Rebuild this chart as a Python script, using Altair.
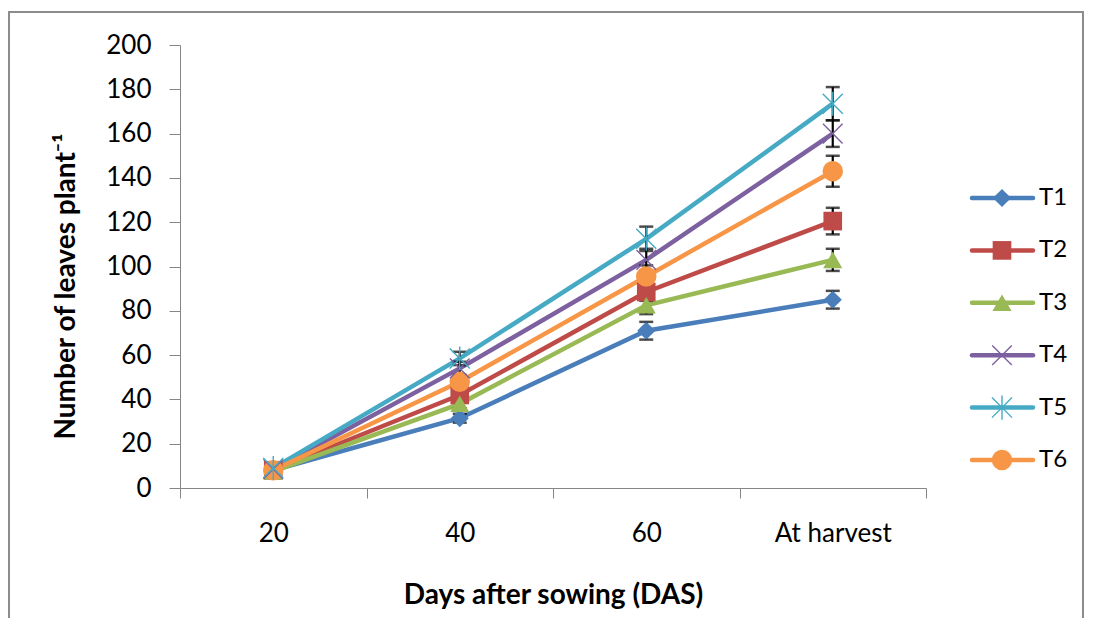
import altair as alt
import pandas as pd

# ---------------- data ----------------
stages = ["20", "40", "60", "At harvest"]
series = ["T1", "T2", "T3", "T4", "T5", "T6"]

T1 = [8.0, 31.5, 71.0, 85.0]
T2 = [8.0, 42.0, 88.5, 120.5]
T3 = [7.5, 38.0, 82.5, 103.0]
T4 = [8.5, 54.0, 103.0, 160.0]
T5 = [9.0, 58.5, 112.5, 173.5]
T6 = [8.0, 48.0, 95.5, 143.0]

E1 = [1.0, 2.0, 4.0, 4.0]
E2 = [1.0, 2.5, 4.0, 6.0]
E3 = [1.0, 2.0, 4.0, 5.0]
E4 = [1.0, 3.0, 5.0, 6.0]
E5 = [1.0, 3.0, 5.5, 7.5]
E6 = [1.0, 3.0, 5.0, 7.0]

colors = ["#4A7EBB", "#BE4B48", "#98B954", "#7D60A0", "#46AAC5", "#F79646"]
shapes = ["diamond", "square", "triangle-up",
          "M-1,-1L1,1M1,-1L-1,1",
          "M-1,-1L1,1M1,-1L-1,1M0,-1.2L0,1.2",
          "circle"]
sizes = [330, 420, 400, 460, 460, 500]

vals = [T1, T2, T3, T4, T5, T6]
errs = [E1, E2, E3, E4, E5, E6]

rows = []
for s, v, e in zip(series, vals, errs):
    for st, vv, ee in zip(stages, v, e):
        rows.append({"series": s, "stage": st, "value": vv, "lo": vv - ee, "hi": vv + ee})
df = pd.DataFrame(rows)
legend_df = pd.DataFrame({"series": series})

FONT = "Lato"
W, H = 746, 443
YTITLE = "Number of leaves plant\u207b\u00b9"

x_enc = alt.X(
    "stage:N", sort=stages,
    scale=alt.Scale(domain=stages, paddingInner=0, paddingOuter=0),
    axis=alt.Axis(title="Days after sowing (DAS)", labelAngle=0, tickBand="extent",
                  tickSize=10, labelPadding=22, titlePadding=35,
                  labelFontSize=26, titleFontSize=28, titleFontWeight="bold",
                  labelFont=FONT, titleFont=FONT, labelColor="#000", titleColor="#000",
                  domainColor="#868686", tickColor="#868686", grid=False),
)

yscale = alt.Scale(domain=[0, 200], nice=False)
y_axis = alt.Axis(values=list(range(0, 201, 20)), grid=False, tickSize=11,
                  labelPadding=18, labelFontSize=26, labelFont=FONT, labelColor="#000",
                  title=YTITLE, titleFont=FONT, titleFontSize=28, titleFontWeight="bold",
                  titleColor="#000", titleX=-114, titleY=241, titleAngle=270,
                  titleAlign="center", titleBaseline="middle",
                  domainColor="#868686", tickColor="#868686")

color_enc = alt.Color("series:N", scale=alt.Scale(domain=series, range=colors), legend=None)
shape_enc = alt.Shape("series:N", scale=alt.Scale(domain=series, range=shapes), legend=None)
size_enc = alt.Size("series:N", scale=alt.Scale(domain=series, range=sizes), legend=None)

base = alt.Chart(df)

lines = base.mark_line(strokeWidth=4.5).encode(
    x=x_enc, y=alt.Y("value:Q", scale=yscale, axis=y_axis), color=color_enc,
    order=alt.Order("stage:N"))

err_rule = base.mark_rule(color="black", strokeWidth=2.2).encode(
    x=x_enc, y=alt.Y("lo:Q", scale=yscale, axis=y_axis), y2="hi:Q")
cap_lo = base.mark_tick(color="black", thickness=2.5, size=14).encode(
    x=x_enc, y=alt.Y("lo:Q", scale=yscale, axis=y_axis))
cap_hi = base.mark_tick(color="black", thickness=2.5, size=14).encode(
    x=x_enc, y=alt.Y("hi:Q", scale=yscale, axis=y_axis))

pts_filled = base.transform_filter(
    alt.FieldOneOfPredicate(field="series", oneOf=["T1", "T2", "T3", "T6"])
).mark_point(filled=True, opacity=1).encode(
    x=x_enc, y=alt.Y("value:Q", scale=yscale, axis=y_axis),
    color=color_enc, shape=shape_enc, size=size_enc)

pts_stroke = base.transform_filter(
    alt.FieldOneOfPredicate(field="series", oneOf=["T4", "T5"])
).mark_point(filled=False, opacity=1, strokeWidth=1.4).encode(
    x=x_enc, y=alt.Y("value:Q", scale=yscale, axis=y_axis),
    color=color_enc, shape=shape_enc, size=size_enc)

main = alt.layer(lines, err_rule, cap_lo, cap_hi, pts_filled, pts_stroke)

# ---------------- custom legend (line + marker) ----------------
ly = alt.Y("series:N", scale=alt.Scale(type="point", domain=series, range=[153, 415], padding=0),
           axis=None)
lbase = alt.Chart(legend_df)
leg_line = lbase.mark_rule(strokeWidth=4.5, strokeCap="round").encode(
    x=alt.value(792), x2=alt.value(853), y=ly, color=color_enc)
leg_pf = lbase.transform_filter(
    alt.FieldOneOfPredicate(field="series", oneOf=["T1", "T2", "T3", "T6"])
).mark_point(filled=True, opacity=1).encode(
    x=alt.value(822), y=ly, color=color_enc, shape=shape_enc, size=size_enc)
leg_ps = lbase.transform_filter(
    alt.FieldOneOfPredicate(field="series", oneOf=["T4", "T5"])
).mark_point(filled=False, opacity=1, strokeWidth=1.4).encode(
    x=alt.value(822), y=ly, color=color_enc, shape=shape_enc, size=size_enc)
leg_text = lbase.mark_text(align="left", baseline="middle", fontSize=24, font=FONT,
                           color="#000").encode(x=alt.value(859), y=ly, text="series:N")
legend = alt.layer(leg_line, leg_pf, leg_ps, leg_text)

# outer frame
frame = alt.Chart(legend_df.head(1)).mark_rect(fill=None, stroke="#8c8c8c", strokeWidth=2).encode(
    x=alt.value(-171), x2=alt.value(903), y=alt.value(-33), y2=alt.value(600))

chart = alt.layer(frame, main, legend).resolve_scale(y="independent").properties(
    width=W, height=H,
    autosize=alt.AutoSizeParams(type="none"),
    padding={"left": 172, "top": 37, "right": 158, "bottom": 130},
).configure_view(stroke=None)

chart.save("out.html", embed_options={"renderer": "svg", "actions": False})
